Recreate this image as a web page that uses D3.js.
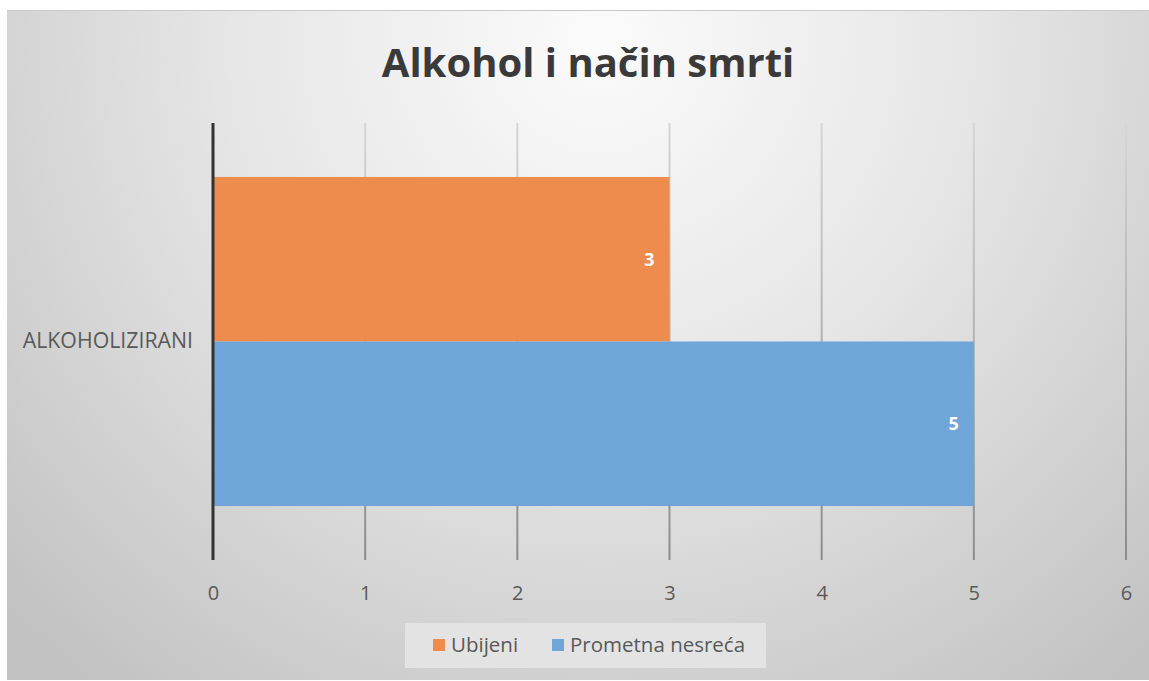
<!DOCTYPE html>
<html>
<head>
<meta charset="utf-8">
<script src="https://cdn.jsdelivr.net/npm/d3@7"></script>
<style>
  html, body { margin: 0; padding: 0; background: #ffffff; }
  svg { display: block; }
</style>
</head>
<body>
<script>
// Chart data
const categories = ["ALKOHOLIZIRANI"];
const seriesNames = ["Ubijeni", "Prometna nesreća"];
const seriesValues = [[3], [5]];
const seriesColors = ["#ED8C4D", "#6FA5D8"];
const xTicks = [0, 1, 2, 3, 4, 5, 6];
const titleText = "Alkohol i način smrti";

const W = 1149, H = 681;
const FONT = "'Open Sans', sans-serif";
const svg = d3.select("body").append("svg").attr("width", W).attr("height", H);
const defs = svg.append("defs");

// Soft radial background of the chart area
const bg = defs.append("radialGradient").attr("id", "bg")
  .attr("gradientUnits", "userSpaceOnUse")
  .attr("cx", 600).attr("cy", 40).attr("r", 820)
  .attr("fx", 600).attr("fy", 40);
bg.append("stop").attr("offset", "0%").attr("stop-color", "#fbfbfb");
bg.append("stop").attr("offset", "45%").attr("stop-color", "#e6e6e6");
bg.append("stop").attr("offset", "100%").attr("stop-color", "#c2c2c2");

const area = { x: 7, y: 10, w: W - 7, h: 670 };
svg.append("rect").attr("x", area.x).attr("y", area.y)
  .attr("width", area.w).attr("height", area.h).attr("fill", "url(#bg)");
svg.append("line").attr("x1", area.x).attr("x2", W).attr("y1", area.y + 0.5).attr("y2", area.y + 0.5)
  .attr("stroke", "#c9c9c9").attr("stroke-width", 1);

const plot = { left: 213, right: 1126, top: 123, bottom: 560 };

// Gridline colour darkens toward the bottom of the plot
const gg = defs.append("linearGradient").attr("id", "grid")
  .attr("gradientUnits", "userSpaceOnUse")
  .attr("x1", 0).attr("y1", plot.top).attr("x2", 0).attr("y2", plot.bottom);
gg.append("stop").attr("offset", "0%").attr("stop-color", "#d6d6d6");
gg.append("stop").attr("offset", "100%").attr("stop-color", "#8c8c8c");

const x = d3.scaleLinear().domain([0, 6]).range([plot.left, plot.right]);
const y = d3.scaleBand().domain(categories).range([plot.top, plot.bottom]).paddingInner(0).paddingOuter(0.164);
const ySub = d3.scaleBand().domain(d3.range(seriesNames.length)).range([0, y.bandwidth()]);

// Title
svg.append("text").attr("x", 588).attr("y", 77)
  .attr("text-anchor", "middle")
  .attr("font-family", FONT).attr("font-weight", 700)
  .attr("font-size", 40).attr("fill", "#3a3a3a")
  .text(titleText);

// Vertical gridlines
svg.append("g").selectAll("line").data(xTicks.filter(d => d > 0)).join("line")
  .attr("x1", d => x(d)).attr("x2", d => x(d))
  .attr("y1", plot.top).attr("y2", plot.bottom)
  .attr("stroke", "url(#grid)").attr("stroke-width", 2);

// Bars with value labels
const cat = categories[0];
seriesNames.forEach((name, i) => {
  const v = seriesValues[i][0];
  const by = y(cat) + ySub(i);
  svg.append("rect")
    .attr("x", x(0)).attr("y", by)
    .attr("width", x(v) - x(0)).attr("height", ySub.bandwidth())
    .attr("fill", seriesColors[i]);
  svg.append("text")
    .attr("x", x(v) - 15).attr("y", by + ySub.bandwidth() / 2)
    .attr("dy", "0.35em").attr("text-anchor", "end")
    .attr("font-family", FONT).attr("font-weight", 700)
    .attr("font-size", 18).attr("fill", "#ffffff")
    .text(v);
});

// Category axis line
svg.append("line").attr("x1", x(0)).attr("x2", x(0))
  .attr("y1", plot.top).attr("y2", plot.bottom)
  .attr("stroke", "#333333").attr("stroke-width", 3);

// X axis tick labels
const xAxis = d3.axisBottom(x).tickValues(xTicks).tickFormat(d3.format("d")).tickSize(0).tickPadding(0);
const gx = svg.append("g").attr("transform", `translate(0, ${plot.bottom + 26})`).call(xAxis);
gx.select(".domain").remove();
gx.selectAll("text")
  .attr("font-family", FONT).attr("font-size", 20)
  .attr("fill", "#595959");

// Category label
const yAxis = d3.axisLeft(y).tickSize(0).tickPadding(0);
const gy = svg.append("g").attr("transform", `translate(${plot.left - 20}, 0)`).call(yAxis);
gy.select(".domain").remove();
gy.selectAll("text")
  .attr("font-family", FONT).attr("font-size", 21.3)
  .attr("fill", "#595959");

// Legend
const lg = svg.append("g");
lg.append("rect").attr("x", 405).attr("y", 623).attr("width", 361).attr("height", 45)
  .attr("fill", "#e3e3e3");
const legendX = [433, 552];
seriesNames.forEach((name, i) => {
  lg.append("rect").attr("x", legendX[i]).attr("y", 639).attr("width", 12).attr("height", 12)
    .attr("fill", seriesColors[i]);
  lg.append("text").attr("x", legendX[i] + 18).attr("y", 645).attr("dy", "0.35em")
    .attr("font-family", FONT).attr("font-size", 20.5)
    .attr("fill", "#595959").text(name);
});
</script>
</body>
</html>
